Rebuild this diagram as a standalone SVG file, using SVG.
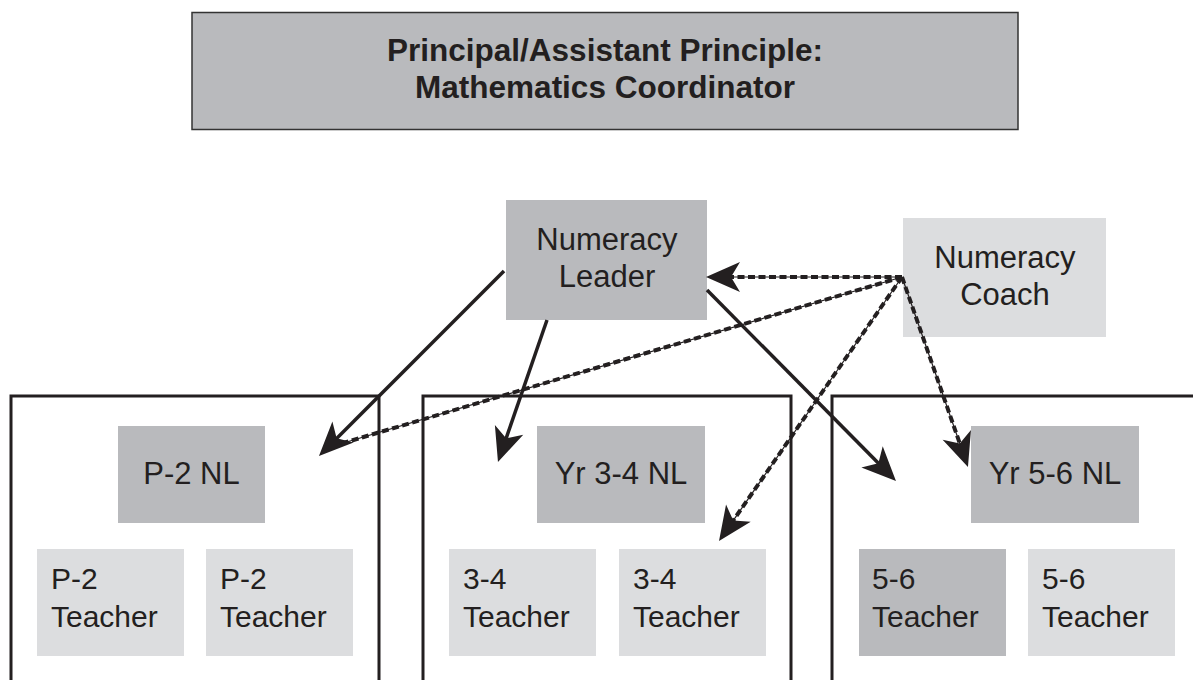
<svg xmlns="http://www.w3.org/2000/svg" width="1193" height="680" viewBox="0 0 1193 680">
<style>
.dark{fill:#b9babd}
.light{fill:#dcdddf}
.t{font-family:"Liberation Sans",Arial,sans-serif;font-size:31px;fill:#231f20}
.tc{text-anchor:middle}
.tt{font-size:30px}
.title{font-family:"Liberation Sans",Arial,sans-serif;font-size:31.5px;font-weight:bold;fill:#231f20;text-anchor:middle}
.panel{fill:none;stroke:#231f20;stroke-width:3}
.solid{fill:none;stroke:#231f20;stroke-width:3.5}
.thin{fill:none;stroke:#231f20;stroke-width:1.2}
.dash{fill:none;stroke:#231f20;stroke-width:4;stroke-dasharray:7 3.5}
</style>
<defs>
<marker id="ah" viewBox="-36 -17 38 34" markerWidth="38" markerHeight="34" refX="-20" refY="0" orient="auto" markerUnits="userSpaceOnUse">
<path d="M0,0 L-34,-15 L-25,0 L-34,15 Z" fill="#231f20"/>
</marker>
</defs>
<rect width="1193" height="680" fill="#ffffff"/>
<g id="panels">
<path class="panel" d="M11,690 V396 H379 V690"/>
<path class="panel" d="M423,690 V396 H791 V690"/>
<path class="panel" d="M832,690 V396 H1200"/>
</g>
<g id="principal">
<rect x="192" y="12.5" width="826" height="117" class="dark" stroke="#333333" stroke-width="1.5"/>
<text class="title" x="605" y="61">Principal/Assistant Principle:</text>
<text class="title" x="605" y="98">Mathematics Coordinator</text>
</g>
<g id="numeracy-leader">
<rect x="506" y="200" width="201" height="120" class="dark"/>
<text class="t tc" x="607" y="250">Numeracy</text>
<text class="t tc" x="607" y="287">Leader</text>
</g>
<g id="numeracy-coach">
<rect x="903" y="218" width="203" height="119" class="light"/>
<text class="t tc" x="1005" y="268">Numeracy</text>
<text class="t tc" x="1005" y="305">Coach</text>
</g>
<g id="p2-nl">
<rect x="118" y="426" width="147" height="97" class="dark"/>
<text class="t tc" x="191.5" y="484">P-2 NL</text>
</g>
<g id="yr34-nl">
<rect x="537" y="426" width="168" height="97" class="dark"/>
<text class="t tc" x="621" y="484">Yr 3-4 NL</text>
</g>
<g id="yr56-nl">
<rect x="971" y="426" width="168" height="97" class="dark"/>
<text class="t tc" x="1055" y="484">Yr 5-6 NL</text>
</g>
<g id="p2-teacher-1">
<rect x="37" y="549" width="147" height="107" class="light"/>
<text class="t tt" x="51" y="589">P-2</text>
<text class="t tt" x="51" y="627">Teacher</text>
</g>
<g id="p2-teacher-2">
<rect x="206" y="549" width="147" height="107" class="light"/>
<text class="t tt" x="220" y="589">P-2</text>
<text class="t tt" x="220" y="627">Teacher</text>
</g>
<g id="t34-teacher-1">
<rect x="449" y="549" width="147" height="107" class="light"/>
<text class="t tt" x="463" y="589">3-4</text>
<text class="t tt" x="463" y="627">Teacher</text>
</g>
<g id="t34-teacher-2">
<rect x="619" y="549" width="147" height="107" class="light"/>
<text class="t tt" x="633" y="589">3-4</text>
<text class="t tt" x="633" y="627">Teacher</text>
</g>
<g id="t56-teacher-1">
<rect x="859" y="549" width="147" height="107" class="dark"/>
<text class="t tt" x="872" y="589">5-6</text>
<text class="t tt" x="872" y="627">Teacher</text>
</g>
<g id="t56-teacher-2">
<rect x="1028" y="549" width="147" height="107" class="light"/>
<text class="t tt" x="1042" y="589">5-6</text>
<text class="t tt" x="1042" y="627">Teacher</text>
</g>
<g id="connectors">
<line class="solid" x1="504" y1="271" x2="333.1" y2="441.9" marker-end="url(#ah)"/>
<line class="solid" x1="547" y1="320" x2="504.5" y2="443.1" marker-end="url(#ah)"/>
<line class="solid" x1="707" y1="290" x2="881.9" y2="466.8" marker-end="url(#ah)"/>
<line class="thin" x1="902" y1="277" x2="726" y2="277"/>
<line class="dash" x1="902" y1="277" x2="726" y2="277" marker-end="url(#ah)"/>
<line class="thin" x1="902" y1="277" x2="340" y2="444"/>
<line class="dash" x1="902" y1="277" x2="340" y2="444"/>
<line class="thin" x1="902" y1="277" x2="730.4" y2="524.6"/>
<line class="dash" x1="902" y1="277" x2="730.4" y2="524.6" marker-end="url(#ah)"/>
<line class="thin" x1="902" y1="277" x2="961.4" y2="448.1"/>
<line class="dash" x1="902" y1="277" x2="961.4" y2="448.1" marker-end="url(#ah)"/>
</g>
</svg>
